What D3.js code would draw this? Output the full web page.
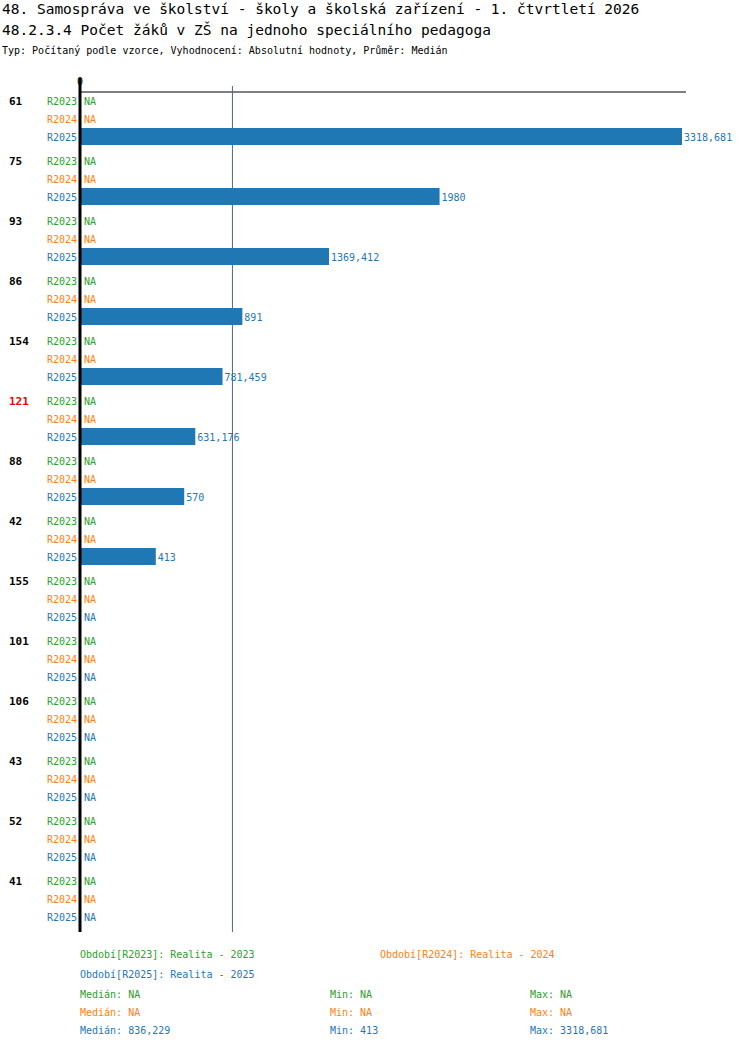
<!DOCTYPE html><html><head><meta charset="utf-8"><script src="https://cdn.jsdelivr.net/npm/d3@7"></script>
<style>body{margin:0;background:#fff}text{font-family:"DejaVu Sans Mono",monospace}</style></head><body>
<script>
const categories=["61","75","93","86","154","121","88","42","155","101","106","43","52","41"];
const highlight=["121"];
const series=["R2023","R2024","R2025"];
const colors=["#2ca02c","#ff7f0e","#1f77b4"];
const v2023=categories.map(()=>null);
const v2024=categories.map(()=>null);
const v2025=[3318.681,1980,1369.412,891,781.459,631.176,570,413,null,null,null,null,null,null];
const median=836.229;
const fmt=v=>String(v).replace(".",",");
const W=750,H=1052;
const svg=d3.select("body").append("svg").attr("width",W).attr("height",H);
svg.append("text").attr("x",2).attr("y",14).attr("font-size",14.5).text("48. Samospráva ve školství - školy a školská zařízení - 1. čtvrtletí 2026");
svg.append("text").attr("x",2).attr("y",35).attr("font-size",14.5).text("48.2.3.4 Počet žáků v ZŠ na jednoho speciálního pedagoga");
svg.append("text").attr("x",2).attr("y",54).attr("font-size",10).text("Typ: Počítaný podle vzorce, Vyhodnocení: Absolutní hodnoty, Průměr: Medián");
const x=d3.scaleLinear().domain([0,3318.681]).range([81,682]);
const y=d3.scaleBand().domain(categories).range([92,932]);
const sub=d3.scaleBand().domain(series).range([0,54]).paddingInner(0.05);
const off=0;
svg.append("text").attr("x",80).attr("y",85).attr("font-size",10).attr("text-anchor","middle").text("0");
svg.append("line").attr("x1",80).attr("x2",686).attr("y1",92).attr("y2",92).attr("stroke","#000");
svg.append("line").attr("x1",x(median)).attr("x2",x(median)).attr("y1",86).attr("y2",932).attr("stroke","#4a6a88");
const data=[v2023,v2024,v2025];
categories.forEach((c,i)=>{
  const gy=y(c)+3;
  svg.append("text").attr("x",9).attr("y",gy+10).attr("font-size",11).attr("font-weight","bold").attr("fill",highlight.includes(c)?"#e00":"#000").text(c);
  series.forEach((s,j)=>{
    const ry=gy+j*18;
    svg.append("text").attr("x",77).attr("y",ry+10).attr("font-size",10).attr("text-anchor","end").attr("fill",colors[j]).text(s);
    const v=data[j][i];
    if(v==null){svg.append("text").attr("x",84).attr("y",ry+10).attr("font-size",10).attr("fill",colors[j]).text("NA");}
    else{
      svg.append("rect").attr("x",x(0)).attr("y",ry-3).attr("width",x(v)-x(0)).attr("height",17).attr("fill",colors[j]);
      svg.append("text").attr("x",x(v)+2).attr("y",ry+10).attr("font-size",10).attr("fill",colors[j]).text(fmt(v));
    }
  });
});
svg.append("line").attr("x1",80).attr("x2",80).attr("y1",78).attr("y2",932).attr("stroke","#000").attr("stroke-width",3);
const L=(t,xx,yy,c)=>svg.append("text").attr("x",xx).attr("y",yy).attr("font-size",10).attr("fill",c).text(t);
L("Období[R2023]: Realita - 2023",80,958,colors[0]);
L("Období[R2024]: Realita - 2024",380,958,colors[1]);
L("Období[R2025]: Realita - 2025",80,978,colors[2]);
const stats=[["NA","NA","NA"],["NA","NA","NA"],["836,229","413","3318,681"]];
stats.forEach((st,j)=>{const yy=998+j*18;
 L("Medián: "+st[0],80,yy,colors[j]);L("Min: "+st[1],330,yy,colors[j]);L("Max: "+st[2],530,yy,colors[j]);});
</script></body></html>
